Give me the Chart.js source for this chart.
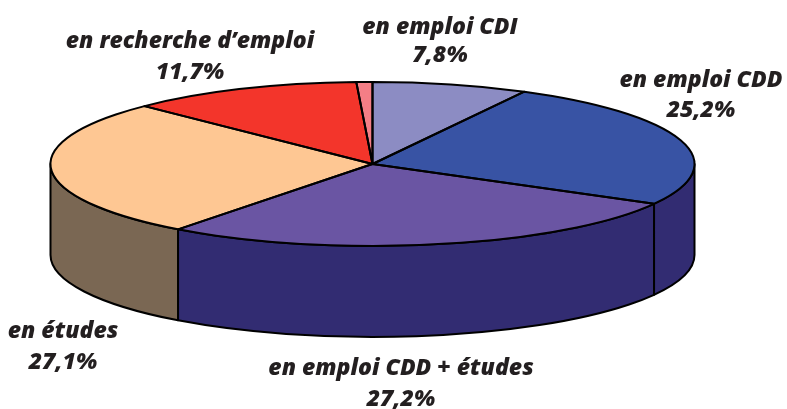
<!DOCTYPE html>
<html>
<head>
<meta charset="utf-8">
<style>html,body{margin:0;padding:0;background:#fff}canvas{display:block}</style>
<script src="https://cdn.jsdelivr.net/npm/chart.js@4/dist/chart.umd.min.js"></script>
</head>
<body>
<canvas id="c" width="787" height="409"></canvas>
<script>
const categories = ["en emploi CDI","en emploi CDD","en emploi CDD + études","en études","en recherche d’emploi","autre"];
const shares = [7.8,25.2,27.2,27.1,11.7,0.8];
const shareLabels = ["7,8%","25,2%","27,2%","27,1%","11,7%",""];
const topColors = ["#8c8cc3","#3853a4","#6a55a3","#fec793","#f3352b","#f47e86"];
const wallColors = ["#46467a","#322c72","#322c72","#7a6753","#8f1f1a","#8f4a4f"];
const labelAnchors = [[440,27,55],[701,80,110],[401,368,399],[63,331,362],[190,41,72]];

const RX = 322, RY = 82, CX = 372.5, CY = 164, DEPTH = 91, INK = "#000";

const pie3d = {
  id: "pie3d",
  beforeDatasetsDraw(chart) {
    const ctx = chart.ctx, arcs = chart.getDatasetMeta(0).data;
    ctx.save();
    ctx.lineWidth = 2; ctx.strokeStyle = INK; ctx.lineJoin = "round";
    arcs.forEach((arc, i) => {
      const s = Math.max(arc.startAngle, 0), e = Math.min(arc.endAngle, Math.PI);
      if (e <= s) return;
      ctx.beginPath();
      ctx.ellipse(CX, CY, RX, RY, 0, s, e);
      ctx.ellipse(CX, CY + DEPTH, RX, RY, 0, e, s, true);
      ctx.closePath();
      ctx.fillStyle = wallColors[i];
      ctx.fill(); ctx.stroke();
    });
    ctx.restore();
    const a = arcs[0], k = a.outerRadius;
    ctx.save();
    ctx.translate(CX, CY);
    ctx.scale(RX / k, RY / k);
    ctx.translate(-a.x, -a.y);
  },
  afterDatasetsDraw(chart) {
    const ctx = chart.ctx, arcs = chart.getDatasetMeta(0).data;
    ctx.restore();
    ctx.save();
    ctx.lineWidth = 2; ctx.strokeStyle = INK; ctx.lineJoin = "round";
    arcs.forEach(arc => {
      ctx.beginPath();
      ctx.moveTo(CX, CY);
      ctx.ellipse(CX, CY, RX, RY, 0, arc.startAngle, arc.endAngle);
      ctx.closePath();
      ctx.stroke();
    });
    ctx.fillStyle = "#231f20";
    ctx.textAlign = "center"; ctx.textBaseline = "alphabetic";
    ctx.font = "italic 800 23px 'Open Sans'";
    labelAnchors.forEach((p, i) => {
      ctx.fillText(categories[i], p[0], p[1] + 7);
      ctx.fillText(shareLabels[i], p[0], p[2] + 7);
    });
    ctx.restore();
  }
};

new Chart(document.getElementById("c"), {
  type: "pie",
  data: { labels: categories, datasets: [{ data: shares, backgroundColor: topColors, borderWidth: 0 }] },
  options: {
    responsive: false, animation: false,
    plugins: { legend: { display: false }, tooltip: { enabled: false } }
  },
  plugins: [pie3d]
});
</script>
</body>
</html>
